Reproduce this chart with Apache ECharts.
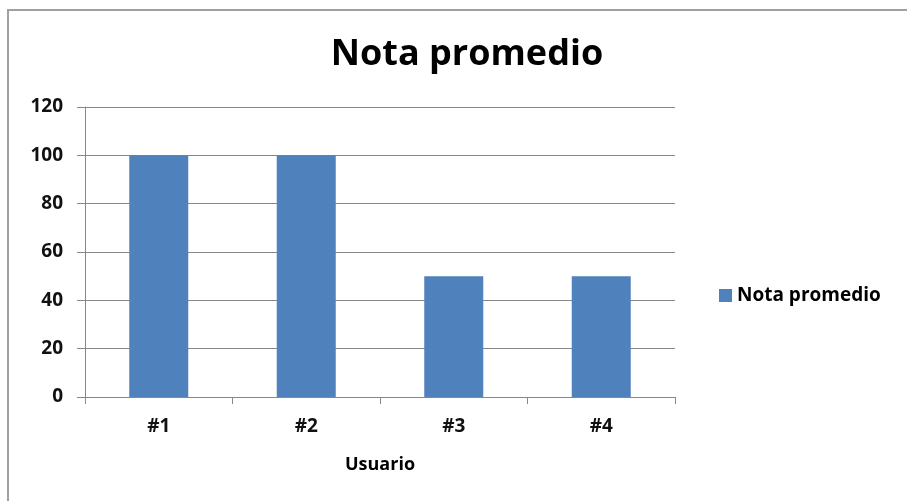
<!DOCTYPE html>
<html>
<head>
<meta charset="utf-8">
<script src="https://cdn.jsdelivr.net/npm/echarts@6/dist/echarts.min.js"></script>
<style>
  html, body { margin: 0; padding: 0; background: #fff; }
  #chart { width: 907px; height: 501px; }
</style>
</head>
<body>
<div id="chart"></div>
<script>
var categories = ["#1", "#2", "#3", "#4"];
var notaValues = [100, 100, 50, 50];
var seriesName = "Nota promedio";

var chart = echarts.init(document.getElementById("chart"));
var option = {
  backgroundColor: "#fff",
  animation: false,
  title: {
    text: "Nota promedio",
    left: 462,
    textAlign: "center",
    top: 32,
    textStyle: {
      fontFamily: "Open Sans",
      fontWeight: "bold",
      fontSize: 36,
      color: "#000"
    }
  },
  graphic: [
    {
      type: "rect",
      shape: { x: 8, y: 10, width: 920, height: 520 },
      style: { fill: "none", stroke: "#a0a0a0", lineWidth: 2 },
      silent: true
    }
  ],
  legend: {
    data: [seriesName],
    left: 714,
    top: 281,
    itemWidth: 13,
    itemHeight: 13,
    itemGap: 4,
    icon: "rect",
    textStyle: {
      fontFamily: "Open Sans",
      fontWeight: "bold",
      fontSize: 19,
      color: "#000"
    }
  },
  grid: {
    left: 85,
    right: 232,
    top: 107,
    bottom: 104,
    containLabel: false
  },
  xAxis: {
    type: "category",
    data: categories,
    name: "Usuario",
    nameLocation: "middle",
    nameGap: 59,
    nameTextStyle: {
      fontFamily: "Open Sans",
      fontWeight: "bold",
      fontSize: 18,
      color: "#000"
    },
    axisLine: { lineStyle: { color: "#888", width: 1 } },
    axisTick: { show: true, length: 7, alignWithLabel: false, lineStyle: { color: "#888" } },
    axisLabel: {
      margin: 20,
      fontFamily: "Open Sans",
      fontWeight: "bold",
      fontSize: 19,
      color: "#111"
    }
  },
  yAxis: {
    type: "value",
    min: 0,
    max: 120,
    interval: 20,
    axisLine: { show: true, lineStyle: { color: "#888", width: 1 } },
    axisTick: { show: true, length: 8, lineStyle: { color: "#888" } },
    splitLine: { lineStyle: { color: "#888", width: 1 } },
    axisLabel: {
      margin: 22,
      fontFamily: "Open Sans",
      fontWeight: "bold",
      fontSize: 19,
      color: "#111"
    }
  },
  series: [
    {
      name: seriesName,
      type: "bar",
      data: notaValues,
      barWidth: "40%",
      itemStyle: { color: "#4f81bd" }
    }
  ]
};
chart.setOption(option);
</script>
</body>
</html>
